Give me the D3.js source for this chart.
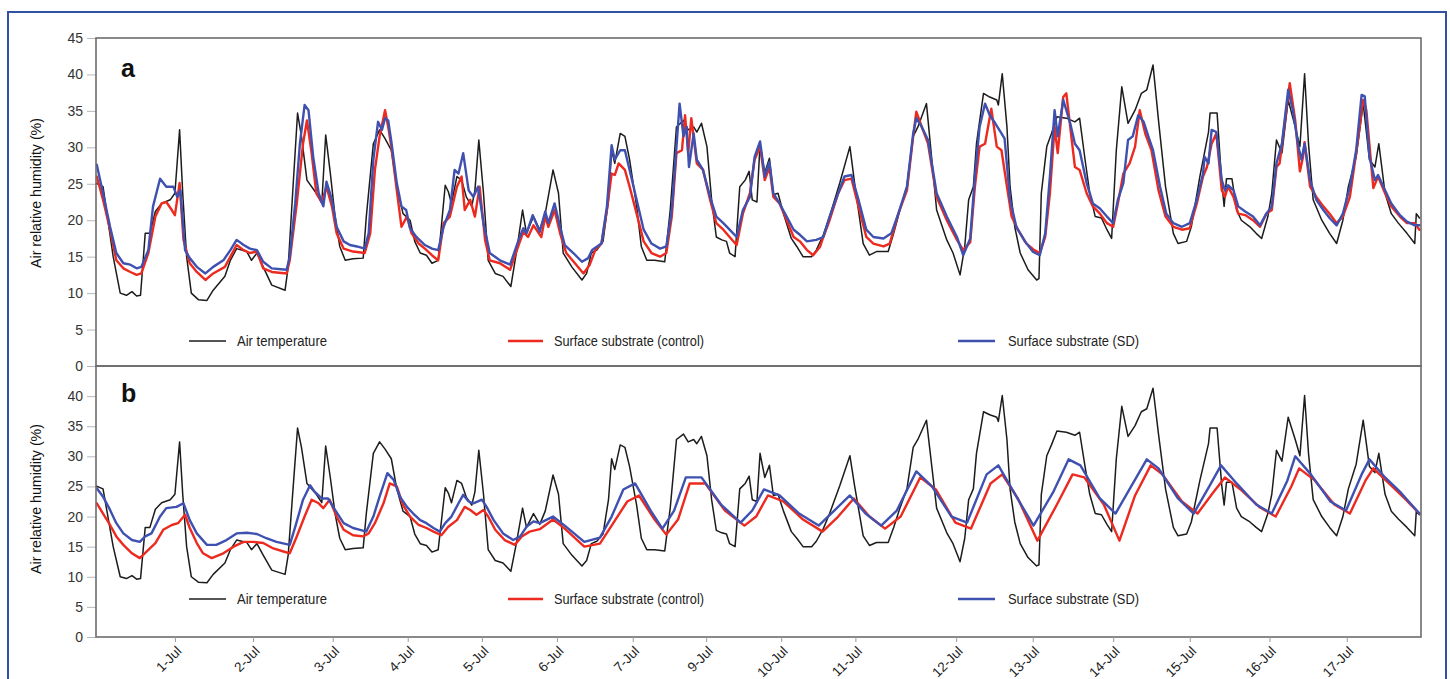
<!DOCTYPE html>
<html><head><meta charset="utf-8">
<script src="https://cdn.jsdelivr.net/npm/d3@7"></script>
<style>
body{margin:0;background:#fff}
svg{display:block}
text{font-family:"Liberation Sans",Arial,Helvetica,sans-serif}
</style>
</head><body>
<svg id="chart" width="1450" height="679"></svg>
<script>
// ---------- DATA ----------
const dayLabels = ["1-Jul","2-Jul","3-Jul","4-Jul","5-Jul","6-Jul","7-Jul","9-Jul","10-Jul","11-Jul","12-Jul","13-Jul","14-Jul","15-Jul","16-Jul","17-Jul"];
// tick positions (in days from the start of the record) as they appear on the axis
const tickDays = [1.01,2.01,3.03,3.99,4.94,5.90,6.87,7.81,8.77,9.72,11.01,11.99,13.02,14.00,15.02,16.01];
const yTicksA = [0,5,10,15,20,25,30,35,40,45];
const yTicksB = [0,5,10,15,20,25,30,35,40];
const seriesNames = ["Air temperature","Surface substrate (control)","Surface substrate (SD)"];
const panelLetters = ["a","b"];
const yTitle = "Air relative humidity (%)";

// [day, value] pairs
const airTemp = [[0.0,25.1],[0.09,24.6],[0.22,15.0],[0.31,10.0],[0.39,9.7],[0.46,10.2],[0.52,9.6],[0.57,9.7],[0.63,18.2],[0.69,18.2],[0.76,21.2],[0.84,22.3],[0.95,22.8],[1.01,23.7],[1.07,32.4],[1.11,23.7],[1.16,15.0],[1.22,10.0],[1.31,9.1],[1.42,9.0],[1.50,10.4],[1.65,12.3],[1.72,14.5],[1.80,16.1],[1.93,15.7],[1.99,14.5],[2.06,15.5],[2.14,13.6],[2.25,11.1],[2.42,10.4],[2.46,13.6],[2.53,26.0],[2.58,34.7],[2.63,31.5],[2.70,25.5],[2.82,23.7],[2.89,22.3],[2.94,31.7],[3.00,26.4],[3.06,20.5],[3.12,16.4],[3.19,14.5],[3.29,14.7],[3.42,14.8],[3.46,20.5],[3.55,30.5],[3.63,32.4],[3.70,31.2],[3.78,29.6],[3.85,24.6],[3.93,20.9],[4.02,20.0],[4.08,17.1],[4.15,15.5],[4.23,15.2],[4.30,14.1],[4.38,14.5],[4.47,24.8],[4.51,23.9],[4.55,22.3],[4.62,26.0],[4.68,25.5],[4.74,23.2],[4.81,21.9],[4.85,24.1],[4.90,31.0],[4.96,23.7],[5.02,14.5],[5.11,12.7],[5.21,12.3],[5.31,10.9],[5.38,15.5],[5.46,21.4],[5.51,18.2],[5.60,20.5],[5.68,18.7],[5.75,20.9],[5.85,26.9],[5.92,23.7],[5.98,15.5],[6.09,13.6],[6.22,11.8],[6.28,12.7],[6.34,15.5],[6.41,15.9],[6.49,17.1],[6.56,22.8],[6.60,29.6],[6.64,27.8],[6.71,31.9],[6.77,31.5],[6.83,28.3],[6.92,21.9],[6.98,16.4],[7.05,14.5],[7.15,14.5],[7.28,14.3],[7.35,21.4],[7.43,32.8],[7.52,33.7],[7.58,32.4],[7.65,32.8],[7.69,32.1],[7.75,33.3],[7.82,30.1],[7.88,22.8],[7.94,17.7],[8.01,17.3],[8.07,17.1],[8.11,15.5],[8.18,15.0],[8.24,24.6],[8.31,25.5],[8.36,26.7],[8.40,22.8],[8.46,22.5],[8.50,30.5],[8.56,26.5],[8.62,28.5],[8.67,23.5],[8.73,23.7],[8.80,20.9],[8.90,17.5],[8.97,16.4],[9.05,15.0],[9.16,15.0],[9.22,15.9],[9.31,18.0],[9.39,20.5],[9.52,25.1],[9.65,30.1],[9.71,25.1],[9.82,16.8],[9.90,15.2],[9.99,15.7],[10.14,15.7],[10.21,18.2],[10.29,21.4],[10.38,24.6],[10.46,31.5],[10.52,32.8],[10.63,36.0],[10.67,31.5],[10.76,21.4],[10.89,17.3],[10.97,15.5],[11.06,12.5],[11.12,16.4],[11.17,22.8],[11.23,24.6],[11.27,30.5],[11.36,37.4],[11.44,36.9],[11.53,36.5],[11.55,35.8],[11.60,40.1],[11.66,32.8],[11.70,24.6],[11.76,19.1],[11.83,15.5],[11.93,13.2],[12.04,11.8],[12.07,12.0],[12.10,23.7],[12.17,30.1],[12.23,31.9],[12.30,34.2],[12.42,34.0],[12.53,33.5],[12.59,34.0],[12.66,28.3],[12.72,23.7],[12.79,20.5],[12.87,20.3],[12.94,18.7],[13.00,17.5],[13.06,29.6],[13.13,38.3],[13.21,33.3],[13.30,35.1],[13.38,37.4],[13.45,37.9],[13.53,41.3],[13.60,33.7],[13.69,24.6],[13.79,18.2],[13.85,16.8],[13.96,17.1],[14.02,19.1],[14.13,26.0],[14.24,32.1],[14.26,34.7],[14.35,34.7],[14.41,25.1],[14.44,21.9],[14.47,25.7],[14.54,25.7],[14.60,21.4],[14.66,20.0],[14.77,19.1],[14.85,18.2],[14.92,17.5],[15.00,20.5],[15.05,23.7],[15.11,31.0],[15.18,29.2],[15.26,36.5],[15.35,32.8],[15.41,30.1],[15.47,40.1],[15.52,30.5],[15.58,22.8],[15.69,20.0],[15.79,18.2],[15.88,16.8],[15.96,20.0],[16.03,24.6],[16.13,28.7],[16.22,36.0],[16.30,28.3],[16.37,27.3],[16.42,30.5],[16.50,23.7],[16.58,20.9],[16.67,19.6],[16.78,18.2],[16.88,16.8],[16.90,20.9],[16.94,20.3]];

const controlA = [[0.01,26.0],[0.09,22.8],[0.18,18.7],[0.26,14.5],[0.35,13.4],[0.44,12.9],[0.52,12.5],[0.58,12.7],[0.67,15.5],[0.76,20.5],[0.84,22.3],[0.90,22.5],[0.97,21.4],[1.01,20.7],[1.07,25.1],[1.12,17.3],[1.20,14.1],[1.29,12.9],[1.40,11.8],[1.50,12.7],[1.65,13.6],[1.72,15.0],[1.80,16.6],[1.89,15.9],[1.97,15.5],[2.06,15.7],[2.14,13.4],[2.25,12.9],[2.44,12.7],[2.48,14.5],[2.57,22.3],[2.65,30.5],[2.70,33.7],[2.76,29.2],[2.82,23.7],[2.89,22.5],[2.95,24.6],[3.02,21.9],[3.08,18.2],[3.17,16.1],[3.29,15.7],[3.44,15.5],[3.51,18.2],[3.57,26.9],[3.63,31.5],[3.70,35.1],[3.74,32.8],[3.78,30.1],[3.85,24.1],[3.91,19.1],[3.98,20.5],[4.04,18.2],[4.13,16.8],[4.21,16.1],[4.30,15.2],[4.38,14.5],[4.45,19.6],[4.53,20.5],[4.62,24.6],[4.68,26.0],[4.72,21.4],[4.79,22.8],[4.85,20.5],[4.91,24.6],[4.98,17.3],[5.04,14.5],[5.17,14.1],[5.30,13.2],[5.41,16.6],[5.47,18.4],[5.53,17.7],[5.60,19.3],[5.70,17.7],[5.75,20.5],[5.79,19.1],[5.87,21.4],[5.94,18.2],[6.02,15.5],[6.13,14.1],[6.24,12.7],[6.32,13.9],[6.39,15.9],[6.47,16.8],[6.54,21.4],[6.60,26.4],[6.64,26.2],[6.69,27.8],[6.77,26.9],[6.83,24.6],[6.92,20.9],[7.01,17.1],[7.11,15.5],[7.22,15.0],[7.30,15.5],[7.37,20.5],[7.43,29.2],[7.50,29.6],[7.54,34.4],[7.58,29.2],[7.62,34.0],[7.69,27.8],[7.77,26.9],[7.86,22.8],[7.94,19.6],[8.03,18.7],[8.11,17.7],[8.20,16.6],[8.28,20.9],[8.37,23.7],[8.43,28.3],[8.50,30.1],[8.56,25.5],[8.62,27.3],[8.67,23.2],[8.75,22.3],[8.84,20.0],[8.93,17.7],[9.01,17.1],[9.10,15.9],[9.18,15.2],[9.27,16.4],[9.31,17.7],[9.39,20.0],[9.50,23.7],[9.58,25.5],[9.67,25.7],[9.76,21.9],[9.86,17.7],[9.95,16.8],[10.08,16.4],[10.16,16.8],[10.27,20.9],[10.38,24.1],[10.46,31.5],[10.50,34.9],[10.57,32.8],[10.65,30.5],[10.76,23.2],[10.89,20.0],[11.02,17.3],[11.10,15.9],[11.19,17.0],[11.25,24.6],[11.31,30.1],[11.38,30.5],[11.46,35.3],[11.53,30.1],[11.59,29.6],[11.66,24.6],[11.72,20.5],[11.80,18.7],[11.91,16.8],[12.01,15.9],[12.08,15.5],[12.15,17.7],[12.21,23.7],[12.27,32.8],[12.31,29.2],[12.38,36.9],[12.42,37.4],[12.47,32.8],[12.53,27.3],[12.59,26.9],[12.68,23.7],[12.76,21.9],[12.85,20.9],[12.94,19.6],[13.02,19.1],[13.08,22.3],[13.15,26.4],[13.23,27.8],[13.30,30.1],[13.36,35.1],[13.43,31.9],[13.51,29.6],[13.60,24.1],[13.69,20.5],[13.79,19.1],[13.90,18.7],[14.00,18.9],[14.09,22.3],[14.17,26.0],[14.22,27.3],[14.28,30.5],[14.34,31.9],[14.41,24.1],[14.45,23.2],[14.49,24.6],[14.56,23.2],[14.62,20.9],[14.71,20.7],[14.81,20.0],[14.90,19.1],[14.98,20.9],[15.05,21.4],[15.11,27.3],[15.15,27.8],[15.28,38.8],[15.35,33.7],[15.41,26.7],[15.45,28.7],[15.47,30.7],[15.54,24.6],[15.62,23.2],[15.71,21.9],[15.79,20.9],[15.88,19.6],[15.96,20.5],[16.05,23.2],[16.13,29.2],[16.22,36.5],[16.26,35.1],[16.35,24.4],[16.41,26.0],[16.50,23.7],[16.58,21.9],[16.69,20.5],[16.78,19.6],[16.88,19.6],[16.94,18.7]];

const sdA = [[0.01,27.6],[0.09,23.7],[0.18,19.1],[0.26,15.5],[0.35,14.1],[0.44,13.9],[0.52,13.4],[0.58,13.6],[0.67,15.9],[0.73,21.9],[0.82,25.7],[0.90,24.6],[0.99,24.6],[1.04,23.2],[1.08,24.1],[1.14,15.9],[1.20,14.8],[1.29,13.6],[1.40,12.7],[1.50,13.6],[1.63,14.5],[1.72,15.9],[1.80,17.3],[1.89,16.6],[1.97,16.1],[2.06,15.9],[2.14,14.3],[2.25,13.4],[2.44,13.2],[2.48,15.0],[2.55,22.3],[2.61,30.5],[2.67,35.8],[2.72,35.1],[2.78,28.7],[2.85,23.7],[2.91,21.9],[2.95,25.3],[3.02,22.8],[3.08,19.1],[3.17,17.1],[3.25,16.6],[3.34,16.4],[3.44,16.1],[3.49,18.2],[3.55,28.3],[3.61,33.5],[3.66,32.4],[3.70,34.0],[3.74,33.7],[3.78,30.8],[3.85,25.1],[3.91,21.9],[3.97,21.4],[4.02,18.9],[4.10,17.7],[4.21,16.6],[4.30,16.1],[4.38,15.9],[4.45,19.1],[4.53,21.4],[4.59,26.9],[4.64,26.4],[4.70,29.2],[4.77,24.1],[4.83,23.2],[4.89,24.6],[4.96,19.6],[5.04,15.5],[5.17,14.5],[5.30,13.9],[5.41,17.3],[5.47,18.9],[5.51,18.2],[5.59,20.7],[5.68,18.4],[5.75,21.2],[5.79,19.6],[5.87,22.3],[5.94,19.1],[6.00,16.6],[6.11,15.5],[6.22,14.3],[6.30,14.8],[6.35,15.9],[6.47,16.8],[6.54,21.9],[6.60,30.3],[6.64,28.3],[6.71,29.6],[6.77,29.6],[6.83,26.9],[6.92,22.8],[7.01,18.7],[7.11,16.8],[7.22,16.1],[7.30,16.4],[7.37,21.4],[7.43,30.1],[7.47,36.0],[7.52,31.5],[7.56,32.8],[7.59,27.3],[7.65,31.9],[7.69,28.3],[7.77,26.9],[7.86,23.2],[7.94,20.5],[8.03,19.6],[8.11,18.7],[8.20,17.7],[8.28,21.4],[8.37,23.2],[8.43,28.7],[8.50,30.8],[8.56,26.0],[8.62,28.0],[8.67,23.7],[8.75,22.3],[8.84,20.5],[8.93,18.7],[9.01,18.0],[9.10,17.1],[9.22,17.3],[9.31,17.7],[9.39,20.5],[9.50,23.7],[9.58,26.0],[9.67,26.2],[9.76,22.8],[9.86,18.7],[9.95,17.7],[10.08,17.5],[10.18,18.2],[10.27,20.9],[10.38,24.6],[10.46,31.9],[10.50,34.0],[10.57,32.8],[10.65,31.0],[10.76,23.7],[10.89,20.5],[11.02,17.7],[11.10,15.2],[11.19,17.5],[11.25,26.0],[11.31,32.8],[11.38,36.0],[11.44,34.4],[11.51,33.3],[11.59,31.9],[11.63,31.2],[11.70,22.8],[11.78,19.1],[11.89,17.1],[11.99,15.7],[12.08,15.2],[12.15,18.2],[12.21,26.0],[12.27,35.1],[12.31,31.5],[12.38,36.5],[12.42,35.1],[12.47,33.3],[12.53,30.5],[12.59,29.6],[12.68,25.1],[12.76,22.3],[12.85,21.6],[12.94,20.5],[13.02,19.6],[13.08,22.8],[13.15,25.1],[13.21,31.0],[13.27,31.5],[13.34,34.4],[13.41,33.5],[13.47,31.5],[13.53,29.6],[13.62,24.6],[13.70,20.9],[13.79,19.6],[13.90,19.1],[14.00,19.6],[14.09,22.8],[14.17,26.4],[14.19,28.7],[14.24,27.8],[14.28,32.4],[14.34,32.1],[14.41,25.5],[14.45,24.1],[14.49,24.8],[14.56,24.1],[14.62,21.9],[14.71,21.2],[14.81,20.5],[14.90,19.3],[14.98,20.9],[15.05,21.9],[15.11,27.8],[15.18,30.5],[15.26,37.9],[15.32,35.1],[15.39,30.1],[15.43,28.3],[15.47,30.5],[15.54,25.5],[15.62,22.8],[15.71,21.4],[15.79,20.3],[15.88,19.3],[15.96,20.9],[16.05,24.6],[16.13,29.6],[16.20,37.2],[16.24,37.0],[16.30,28.7],[16.37,25.5],[16.41,26.2],[16.50,24.1],[16.58,22.3],[16.69,20.7],[16.78,19.8],[16.88,19.3],[16.94,19.3]];

const controlB = [[0.01,22.2],[0.09,20.5],[0.18,18.6],[0.26,16.7],[0.35,15.3],[0.46,13.9],[0.56,13.1],[0.65,14.2],[0.76,15.6],[0.86,17.8],[0.97,18.6],[1.05,18.9],[1.14,20.3],[1.20,18.1],[1.29,15.6],[1.37,13.9],[1.48,13.1],[1.63,13.9],[1.76,15.0],[1.89,15.8],[2.01,15.8],[2.14,15.6],[2.27,14.7],[2.40,14.2],[2.48,13.9],[2.57,16.7],[2.67,20.0],[2.76,22.8],[2.85,22.2],[2.91,21.4],[2.99,22.8],[3.08,20.0],[3.17,17.8],[3.29,16.9],[3.42,16.7],[3.49,17.2],[3.57,18.9],[3.68,22.2],[3.76,25.5],[3.85,25.0],[3.93,21.9],[4.02,20.0],[4.13,18.6],[4.23,18.1],[4.32,17.5],[4.42,16.9],[4.51,18.3],[4.62,19.4],[4.72,21.6],[4.79,21.1],[4.87,20.3],[4.96,21.1],[5.02,20.0],[5.11,17.8],[5.23,16.1],[5.36,15.3],[5.45,16.7],[5.55,17.5],[5.68,17.9],[5.85,19.5],[6.0,18.0],[6.25,15.0],[6.45,15.5],[6.6,18.5],[6.8,22.5],[6.95,23.5],[7.15,19.5],[7.3,17],[7.45,19.5],[7.6,25.5],[7.8,25.5],[8.05,21],[8.3,18.5],[8.45,20],[8.6,23.5],[8.8,22.5],[9.05,19.5],[9.3,17.5],[9.5,20],[9.7,23],[9.9,20],[10.1,18],[10.3,20],[10.55,26.5],[10.75,24.5],[11.0,19],[11.2,18],[11.45,25.5],[11.6,27],[11.8,23],[12.05,16],[12.3,22],[12.5,27],[12.65,26.5],[12.9,22],[13.1,16],[13.3,23.5],[13.5,28.5],[13.65,27],[13.9,22.5],[14.1,20.5],[14.3,24],[14.45,26.5],[14.65,24.5],[14.9,21.5],[15.1,20],[15.3,25],[15.4,28],[15.6,26],[15.85,22],[16.05,20.5],[16.25,26],[16.35,28],[16.55,25.5],[16.75,23],[16.94,20.5]];

const sdB = [[0.01,24.7],[0.09,23.3],[0.18,21.1],[0.26,18.9],[0.35,17.2],[0.46,16.1],[0.56,15.8],[0.63,16.7],[0.71,17.2],[0.82,20.0],[0.90,21.4],[1.03,21.6],[1.12,22.2],[1.20,19.4],[1.29,17.2],[1.42,15.3],[1.54,15.3],[1.67,16.1],[1.80,17.2],[1.93,17.3],[2.06,17.1],[2.18,16.4],[2.31,15.8],[2.48,15.3],[2.55,18.3],[2.65,22.8],[2.74,25.2],[2.80,24.1],[2.89,23.0],[2.97,23.0],[3.06,21.1],[3.17,18.9],[3.29,18.1],[3.38,17.8],[3.46,17.5],[3.55,20.0],[3.63,23.3],[3.73,27.2],[3.81,26.1],[3.89,23.3],[3.98,21.6],[4.06,20.5],[4.15,19.4],[4.23,18.9],[4.32,18.1],[4.40,17.5],[4.47,18.9],[4.55,20.0],[4.64,22.2],[4.70,23.6],[4.77,22.5],[4.83,22.2],[4.94,22.8],[5.00,21.6],[5.09,19.4],[5.21,17.2],[5.34,16.1],[5.43,16.7],[5.51,18.3],[5.60,19.2],[5.68,18.9],[5.85,20.0],[6.0,18.5],[6.25,15.8],[6.45,16.5],[6.6,20],[6.75,24.5],[6.9,25.5],[7.1,21],[7.25,18],[7.4,21],[7.55,26.5],[7.75,26.5],[8.0,22],[8.25,19],[8.4,21],[8.55,24.5],[8.75,23.5],[9.0,20.5],[9.25,18.5],[9.45,21],[9.65,23.5],[9.85,20.5],[10.05,18.5],[10.25,21],[10.5,27.5],[10.7,25],[10.95,20],[11.15,19],[11.4,27],[11.55,28.5],[11.75,24],[12.0,18.5],[12.25,24],[12.45,29.5],[12.6,28.5],[12.85,23],[13.05,20.5],[13.25,25],[13.45,29.5],[13.6,28],[13.85,23],[14.05,20.5],[14.25,25],[14.4,28.5],[14.6,25.5],[14.85,22],[15.05,20.5],[15.25,26],[15.35,30],[15.55,27],[15.8,22.5],[16.0,21],[16.2,27],[16.3,29.5],[16.5,26.5],[16.7,24],[16.94,20.5]];

// ---------- LAYOUT ----------
const svg = d3.select("#chart");
const L = 96, R = 1421;
const panels = [
  {top:38, bottom:366, ticks:yTicksA, series:[airTemp, controlA, sdA], letter:panelLetters[0], legendY:341, titleY:193, letterY:77},
  {top:366, bottom:637, ticks:yTicksB, series:[airTemp, controlB, sdB], letter:panelLetters[1], legendY:599, titleY:499, letterY:402}
];
const colors = ["#1c1c1c","#ec2a1f","#3f51b0"];
const widths = [1.5,2.4,2.4];
const legendLineX = [[189,226],[508,543],[958,995]];
const legendTextX = [237,554,1008];
const legendTextW = [90,150,131];

const x = d3.scaleLinear().domain([0,16.96]).range([L,R]);

// outer blue frame
svg.append("rect").attr("x",8).attr("y",12).attr("width",1438).attr("height",700)
  .attr("fill","none").attr("stroke","#3152a3").attr("stroke-width",2);

panels.forEach((p,pi)=>{
  const y = d3.scaleLinear().domain([0,45]).range([p.bottom,p.top]);
  const g = svg.append("g");
  const clipId = "clip"+pi;
  svg.append("clipPath").attr("id",clipId).append("rect")
    .attr("x",L).attr("y",p.top).attr("width",R-L).attr("height",p.bottom-p.top);

  const ax = g.append("g").attr("transform",`translate(${L},0)`)
    .call(d3.axisLeft(y).tickValues(p.ticks).tickSize(9).tickPadding(4));
  ax.select(".domain").remove();
  ax.selectAll(".tick line").attr("stroke","#b8b8b8").attr("stroke-width",1);
  ax.selectAll(".tick text").attr("font-size",14).attr("fill","#333")
    .attr("font-family",'"Liberation Sans",Arial,sans-serif');

  const line = d3.line().x(d=>x(d[0])).y(d=>y(d[1]));
  const lg = g.append("g").attr("clip-path",`url(#${clipId})`);
  p.series.forEach((s,si)=>{
    lg.append("path").datum(s).attr("d",line).attr("fill","none")
      .attr("stroke",colors[si]).attr("stroke-width",widths[si])
      .attr("stroke-linejoin","round").attr("stroke-linecap","round");
  });

  g.append("rect").attr("x",L).attr("y",p.top).attr("width",R-L).attr("height",p.bottom-p.top)
    .attr("fill","none").attr("stroke","#6c6c6c").attr("stroke-width",1.6);

  g.append("text").attr("x",121).attr("y",p.letterY).text(p.letter)
    .attr("font-size",25).attr("font-weight","bold").attr("fill","#111");

  g.append("text").attr("transform",`translate(41,${p.titleY}) rotate(-90)`)
    .attr("text-anchor","middle").attr("font-size",14).attr("fill","#111")
    .attr("textLength",150).attr("lengthAdjust","spacingAndGlyphs").text(yTitle);

  seriesNames.forEach((n,i)=>{
    g.append("line").attr("x1",legendLineX[i][0]).attr("x2",legendLineX[i][1])
      .attr("y1",p.legendY).attr("y2",p.legendY)
      .attr("stroke",colors[i]).attr("stroke-width",i===0?1.5:2.5);
    g.append("text").attr("x",legendTextX[i]).attr("y",p.legendY+5)
      .attr("font-size",14).attr("fill","#222")
      .attr("textLength",legendTextW[i]).attr("lengthAdjust","spacingAndGlyphs").text(n);
  });
});

const xa = svg.append("g").attr("transform",`translate(0,637)`)
  .call(d3.axisBottom(x).tickValues(tickDays).tickFormat((d,i)=>dayLabels[i]).tickSize(5));
xa.select(".domain").remove();
xa.selectAll(".tick line").attr("stroke","#999");
xa.selectAll(".tick text").attr("font-size",13.5).attr("fill","#222")
  .attr("font-family",'"Liberation Sans",Arial,sans-serif')
  .attr("text-anchor","end").attr("x",0).attr("y",0).attr("dy",0)
  .attr("transform","translate(7,15) rotate(-45)");
</script>
</body></html>
